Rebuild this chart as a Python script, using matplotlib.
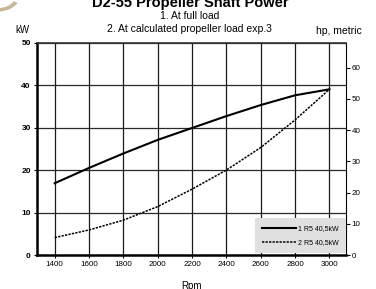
import matplotlib
matplotlib.use("Agg")
import matplotlib.pyplot as plt
from matplotlib.patches import Wedge

rpm = [1400, 1600, 1800, 2000, 2200, 2400, 2600, 2800, 3000]
full_load_kw = [16.9, 20.5, 23.9, 27.1, 29.9, 32.7, 35.3, 37.6, 39.0]
prop_load_kw = [4.1, 5.9, 8.2, 11.4, 15.5, 20.0, 25.3, 31.8, 39.0]
x_ticks = [1400, 1600, 1800, 2000, 2200, 2400, 2600, 2800, 3000]
kw_ticks = [0, 10, 20, 30, 40, 50]
hp_ticks = [0, 10, 20, 30, 40, 50, 60]
legend_labels = ["1 R5 40,5kW", "2 R5 40,5kW"]
KW_TO_HP = 1.3596

plt.rcParams['font.family'] = ['Liberation Sans', 'DejaVu Sans']

fig = plt.figure(figsize=(3.76, 2.89), dpi=100)
ax = fig.add_axes([0.0984, 0.1176, 0.822, 0.735])

ax.set_xlim(1297, 3097)
ax.set_ylim(0, 50)

for x in x_ticks:
    ax.axvline(x, color='#1a1a1a', lw=0.9, zorder=1)
for y in kw_ticks[1:]:
    ax.axhline(y, color='#2a2a2a', lw=0.9, zorder=1)

ax.plot(rpm, full_load_kw, color='black', lw=1.5, zorder=3, label=legend_labels[0])
ax.plot(rpm, prop_load_kw, color='black', lw=1.1, ls=(0, (1.5, 0.8)), zorder=3, label=legend_labels[1])

ax.set_xticks(x_ticks)
ax.set_xticklabels([str(v) for v in x_ticks], fontsize=5.8)
ax.set_yticks(kw_ticks)
ax.set_yticklabels([str(v) for v in kw_ticks], fontsize=6, fontweight='bold')
ax.tick_params(axis='both', direction='out', length=2.5, width=0.8, pad=2)

for side in ['left', 'bottom']:
    ax.spines[side].set_linewidth(1.8)
ax.spines['top'].set_linewidth(1.2)
ax.spines['top'].set_color('#333333')
ax.spines['right'].set_linewidth(0.8)

ax2 = ax.twinx()
ax2.set_ylim(0, 50 * KW_TO_HP)
ax2.set_yticks(hp_ticks)
ax2.set_yticklabels([str(v) for v in hp_ticks], fontsize=5.8)
ax2.tick_params(axis='y', direction='out', length=3, width=0.8, pad=1)
for s in ax2.spines.values():
    s.set_visible(False)

leg = ax.legend(loc='lower right', bbox_to_anchor=(1.0, 0.01), fontsize=5,
                frameon=True, fancybox=False, handlelength=5.0, handletextpad=0.3,
                borderpad=1.0, labelspacing=0.95, borderaxespad=0)
leg.get_frame().set_facecolor('#e0e0e0')
leg.get_frame().set_edgecolor('none')
leg.get_frame().set_alpha(1)
leg.set_zorder(5)

fig.text(0.505, 0.976, "D2-55 Propeller Shaft Power", ha='center', va='baseline',
         fontsize=10.5, fontweight='bold')
fig.text(0.505, 0.946, "1. At full load", ha='center', va='center', fontsize=7.5)
fig.text(0.505, 0.900, "2. At calculated propeller load exp.3", ha='center', va='center', fontsize=7.5)
fig.text(0.061, 0.895, "kW", ha='center', va='center', fontsize=7)
fig.text(0.902, 0.893, "hp, metric", ha='center', va='center', fontsize=7.5)
fig.text(0.508, 0.012, "Rpm", ha='center', va='center', fontsize=7)

# partial logo at top-left
logo = Wedge((-0.005, 1.02), 0.06, 270, 330, width=0.012, transform=fig.transFigure,
             facecolor='#c8b89a', edgecolor='none')
fig.patches.append(logo)

fig.savefig("out.png", dpi=100)
